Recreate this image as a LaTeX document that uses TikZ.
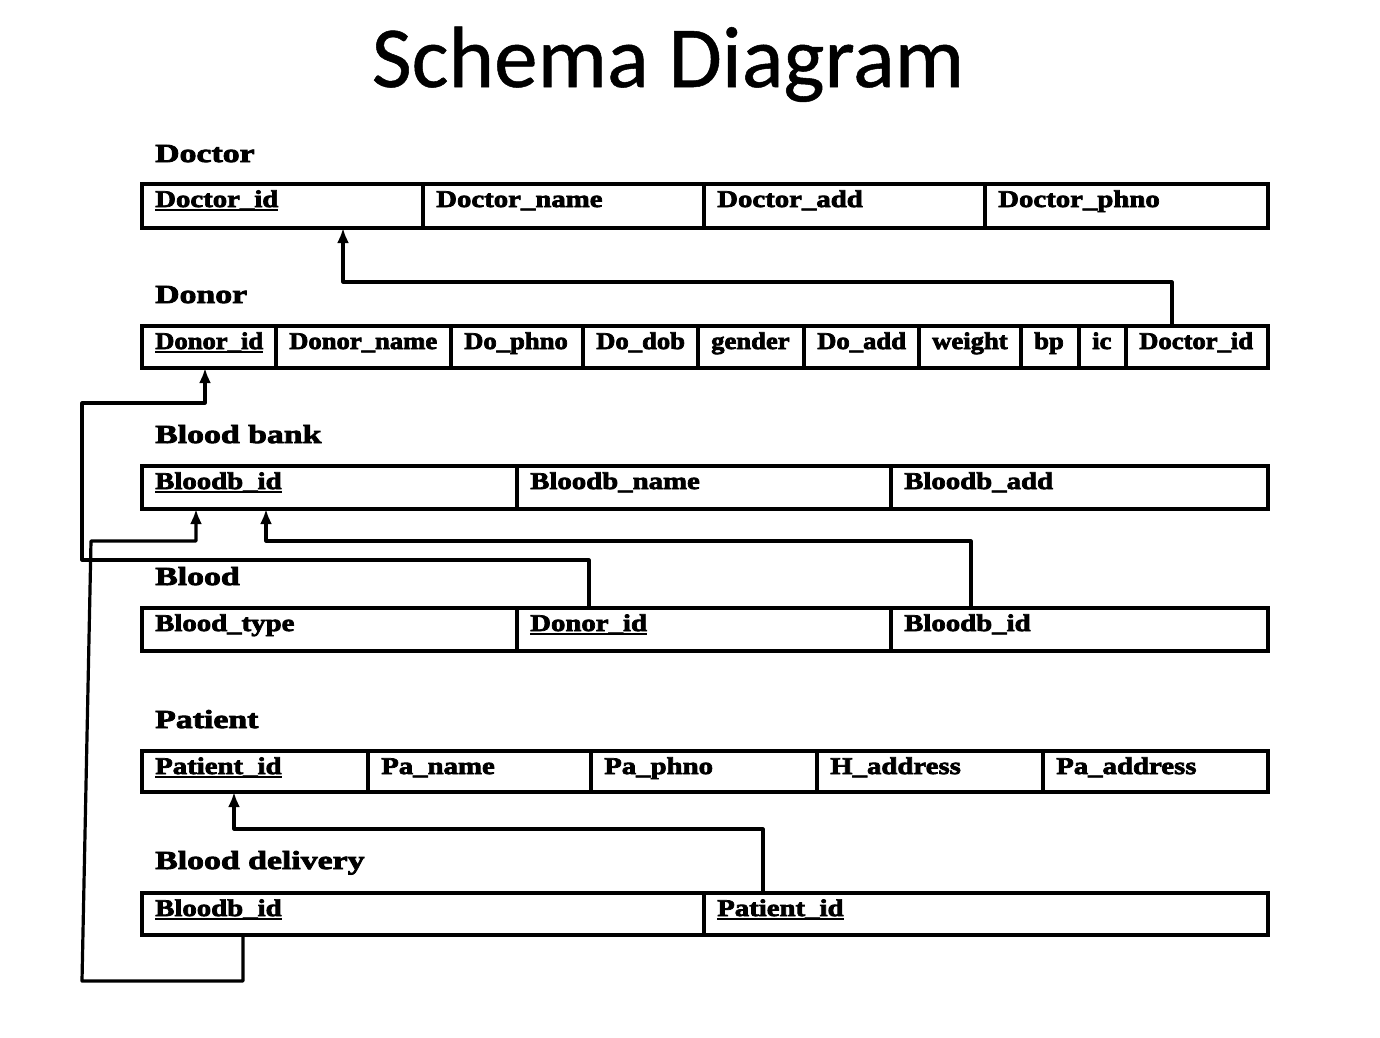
\documentclass[tikz,border=0pt]{standalone}
\usepackage{fontspec}
\setmainfont{Liberation Serif}
\newfontfamily\titlefont{Carlito}[FakeBold=0.6]
\newfontfamily\cellfontw{Liberation Serif Bold}[FakeStretch=1.2,FakeBold=3]
\newfontfamily\cellfontn{Liberation Serif Bold}[FakeStretch=1.11,FakeBold=3]
\newfontfamily\labelfont{Liberation Serif Bold}[FakeStretch=1.3,FakeBold=3.2]
\usetikzlibrary{arrows.meta}
\newcommand\curfont{\cellfontw}
\newcommand\keyul[1]{\setbox0=\hbox{#1}\rlap{\rule[-4pt]{\wd0}{2.4pt}}\box0}
\newcommand\mkcell[6]{%
  \node[box, anchor=north west, minimum width={(#3-#2)*1pt}, minimum height={(#5-#4)*1pt}] (#1) at (#2,#4) {};
  \node[ctext] (#1t) at ([xshift=13pt, yshift=-23pt]#1.north west) {#6};
}
\tikzset{
  box/.style={draw, line width=3.2pt, inner sep=0pt, outer sep=0pt},
  conn/.style={draw, line width=3.2pt, line join=round, -{Latex[length=15pt,width=12pt]}},
  ctext/.style={anchor=base west, inner sep=0pt, font=\fontsize{24}{28}\curfont},
  ltext/.style={anchor=base west, inner sep=0pt, font=\fontsize{26}{30}\labelfont},
}
\begin{document}
\begin{tikzpicture}[x=1pt, y=-1pt]
\useasboundingbox[fill=white] (0,0) rectangle (1380,1037);
\node[anchor=base, inner sep=0pt, font=\fontsize{87}{100}\titlefont] (title) at (668,87) {Schema Diagram};

% Doctor
\node[ltext] (lDoctor) at (155,162) {Doctor};
\mkcell{doc1}{142}{423}{184}{228}{\keyul{Doctor\_id}}
\mkcell{doc2}{423}{704}{184}{228}{Doctor\_name}
\mkcell{doc3}{704}{985}{184}{228}{Doctor\_add}
\mkcell{doc4}{985}{1268}{184}{228}{Doctor\_phno}

% Donor
\node[ltext] (lDonor) at (155,303) {Donor};
\renewcommand\curfont{\cellfontn}
\mkcell{dn1}{142}{276}{326}{368}{\keyul{Donor\_id}}
\mkcell{dn2}{276}{451}{326}{368}{Donor\_name}
\mkcell{dn3}{451}{583}{326}{368}{Do\_phno}
\mkcell{dn4}{583}{698}{326}{368}{Do\_dob}
\mkcell{dn5}{698}{804}{326}{368}{gender}
\mkcell{dn6}{804}{919}{326}{368}{Do\_add}
\mkcell{dn7}{919}{1021}{326}{368}{weight}
\mkcell{dn8}{1021}{1079}{326}{368}{bp}
\mkcell{dn9}{1079}{1126}{326}{368}{ic}
\mkcell{dn10}{1126}{1268}{326}{368}{Doctor\_id}
\renewcommand\curfont{\cellfontw}

% Blood bank
\node[ltext] (lBank) at (155,443) {Blood bank};
\mkcell{bb1}{142}{517}{466}{509}{\keyul{Bloodb\_id}}
\mkcell{bb2}{517}{891}{466}{509}{Bloodb\_name}
\mkcell{bb3}{891}{1268}{466}{509}{Bloodb\_add}

% Blood
\node[ltext] (lBlood) at (155,585) {Blood};
\mkcell{bl1}{142}{517}{608}{651}{Blood\_type}
\mkcell{bl2}{517}{891}{608}{651}{\keyul{Donor\_id}}
\mkcell{bl3}{891}{1268}{608}{651}{Bloodb\_id}

% Patient
\node[ltext] (lPatient) at (155,728) {Patient};
\mkcell{pt1}{142}{368}{751}{792}{\keyul{Patient\_id}}
\mkcell{pt2}{368}{591}{751}{792}{Pa\_name}
\mkcell{pt3}{591}{817}{751}{792}{Pa\_phno}
\mkcell{pt4}{817}{1043}{751}{792}{H\_address}
\mkcell{pt5}{1043}{1268}{751}{792}{Pa\_address}

% Blood delivery
\node[ltext] (lDelivery) at (155,869) {Blood delivery};
\mkcell{bd1}{142}{704}{893}{935}{\keyul{Bloodb\_id}}
\mkcell{bd2}{704}{1268}{893}{935}{\keyul{Patient\_id}}

% connectors
\coordinate (k1) at (343,282);
\draw[conn] ([xshift=46pt]dn10.north west) |- (k1) -- (doc1.south west -| k1);

\coordinate (k2) at (82,560);
\coordinate (k3) at (82,403);
\coordinate (k4) at (205,403);
\draw[conn] ([xshift=72pt]bl2.north west) |- (k2) -- (k3) -- (k4) -- (dn1.south west -| k4);

\coordinate (k5) at (266,541);
\draw[conn] ([xshift=80pt]bl3.north west) |- (k5) -- (bb1.south west -| k5);

\coordinate (k6) at (82,981);
\coordinate (k7) at (91,541);
\coordinate (k8) at (196,541);
\draw[conn] ([xshift=101pt]bd1.south west) |- (k6) -- (k7) -- (k8) -- (bb1.south west -| k8);

\coordinate (k9) at (234,829);
\draw[conn] ([xshift=59pt]bd2.north west) |- (k9) -- (pt1.south west -| k9);
\end{tikzpicture}
\end{document}
